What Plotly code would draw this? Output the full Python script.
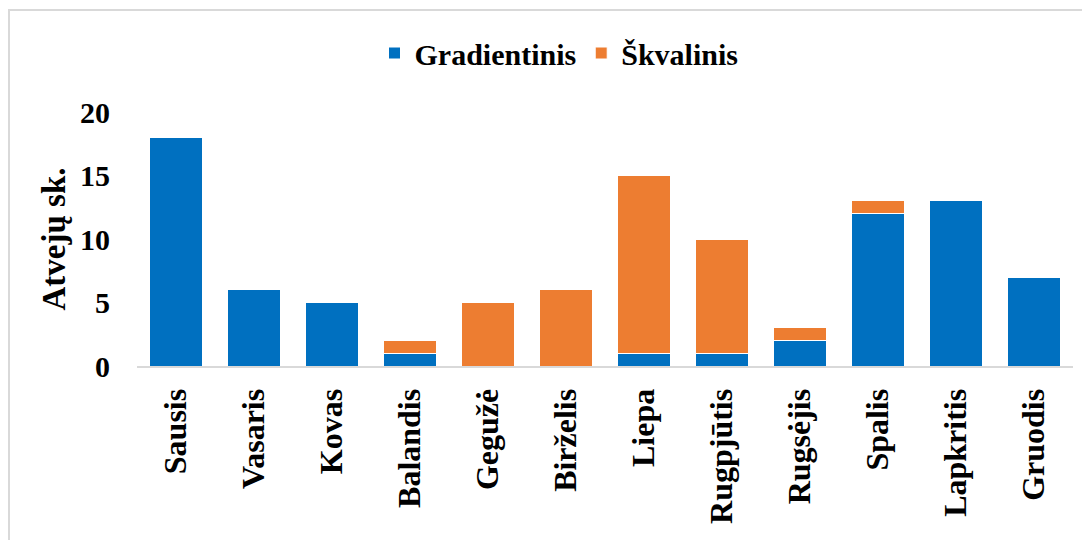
import plotly.graph_objects as go

months = ["Sausis", "Vasaris", "Kovas", "Balandis", "Gegužė", "Birželis",
          "Liepa", "Rugpjūtis", "Rugsėjis", "Spalis", "Lapkritis", "Gruodis"]
gradientinis = [18, 6, 5, 1, 0, 0, 1, 1, 2, 12, 13, 7]
skvalinis = [0, 0, 0, 1, 5, 6, 14, 9, 1, 1, 0, 0]
y_ticks = [0, 5, 10, 15, 20]

FONT = "Liberation Serif, Times New Roman, serif"

# figure is placed at (8,8) by the page body margin
W, H = 1082, 532
L, R, T, B = 129, 17, 104, 174
PW, PH = W - L - R, H - T - B


def px(x):
    return (x - L) / PW


def py(y):
    return 1 - (y - T) / PH


fig = go.Figure()
fig.add_trace(go.Bar(x=months, y=gradientinis, name="Gradientinis",
                     marker=dict(color="#0070C0", line=dict(color="#ffffff", width=1))))
fig.add_trace(go.Bar(x=months, y=skvalinis, name="Škvalinis",
                     marker=dict(color="#ED7D31", line=dict(color="#ffffff", width=1))))

fig.update_layout(
    barmode="stack",
    bargap=0.33,
    width=W, height=H,
    margin=dict(l=L, r=R, t=T, b=B),
    paper_bgcolor="white", plot_bgcolor="white",
    font=dict(family=FONT, size=24, color="black", weight="bold"),
    legend=dict(orientation="h", x=px(551), xanchor="center", y=py(45), yanchor="middle",
                font=dict(family=FONT, size=30, weight="bold"), itemwidth=30,
                traceorder="normal"),
    xaxis=dict(tickangle=-90, showline=True, linecolor="#d9d9d9", linewidth=2,
               ticks="", showgrid=False, ticklabelstandoff=8,
               tickfont=dict(family=FONT, size=32, weight="bold")),
    yaxis=dict(range=[0, 20], tickvals=y_ticks, showgrid=False, zeroline=False,
               showline=False, ticks="", ticklabelstandoff=26,
               tickfont=dict(family=FONT, size=30, weight="bold"),
               title=dict(text="Atvejų sk.", standoff=4,
                          font=dict(family=FONT, size=33, weight="bold"))),
    shapes=[
        dict(type="line", xref="paper", yref="paper",
             x0=px(1), x1=px(1), y0=py(H + 5), y1=py(2),
             line=dict(color="#d9d9d9", width=2), layer="below"),
        dict(type="line", xref="paper", yref="paper",
             x0=px(0), x1=px(W + 5), y0=py(2), y1=py(2),
             line=dict(color="#d9d9d9", width=2), layer="below"),
    ],
)

fig.write_html("out.html")
